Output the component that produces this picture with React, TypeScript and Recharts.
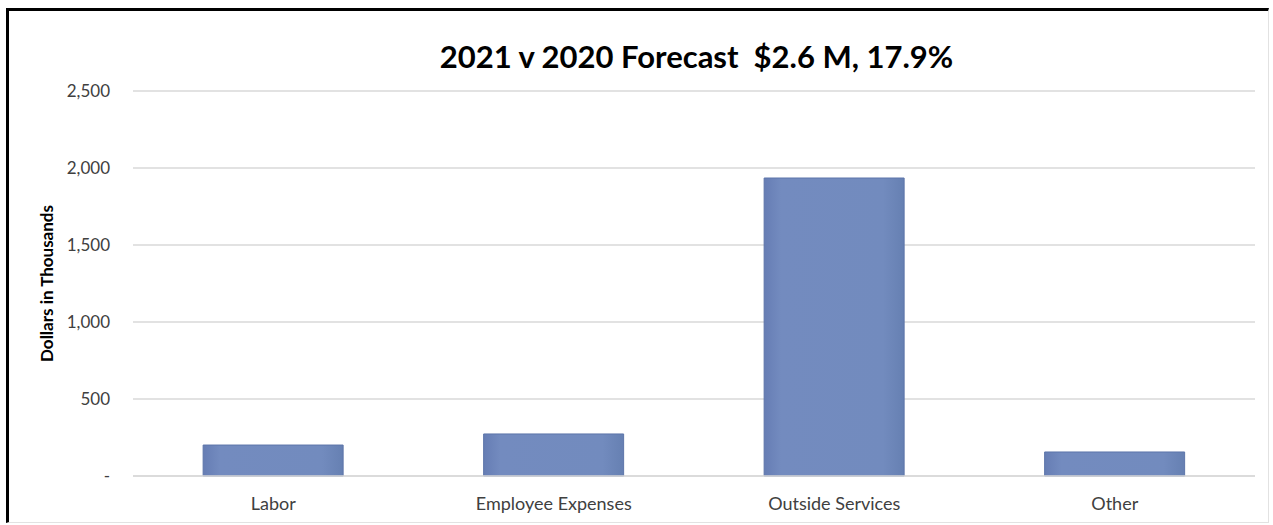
import React from "react";
import { BarChart, Bar, XAxis, YAxis, CartesianGrid, Label } from "recharts";

const categories = ["Labor", "Employee Expenses", "Outside Services", "Other"];
const variance = [201, 273, 1935, 156];
const yTicks = [0, 500, 1000, 1500, 2000, 2500];

const data = categories.map((name, i) => ({ name, value: variance[i] }));

const FONT = "Lato, 'Open Sans', sans-serif";

const formatTick = (v: number) => (v === 0 ? "-" : v.toLocaleString("en-US"));

export default function App() {
  return (
    <div style={{ position: "absolute", left: 0, top: 0, width: 1273, height: 525, background: "#fff" }}>
      <div
        style={{
          position: "absolute",
          left: 6,
          top: 8,
          width: 1259,
          height: 511,
          borderTop: "3px solid #000",
          borderLeft: "3px solid #000",
          borderRight: "1px solid #e2e2e2",
          borderBottom: "1px solid #e2e2e2",
        }}
      />
      <div
        style={{
          position: "absolute",
          left: 0,
          top: 37,
          width: 1393,
          textAlign: "center",
          fontFamily: FONT,
          fontWeight: 700,
          fontSize: 31,
          lineHeight: "38px",
          color: "#000",
        }}
      >
        2021 v 2020 Forecast&nbsp;&nbsp;$2.6 M, 17.9%
      </div>
      <div style={{ position: "absolute", left: 0, top: 0 }}>
        <BarChart
          width={1273}
          height={525}
          data={data}
          margin={{ top: 91, right: 18, bottom: 0, left: 53 }}
          barCategoryGap="25%"
        >
          <defs>
            <linearGradient id="barFill" x1="0" y1="0" x2="1" y2="0">
              <stop offset="0%" stopColor="#667db4" />
              <stop offset="12%" stopColor="#738bbf" />
              <stop offset="85%" stopColor="#728bbe" />
              <stop offset="100%" stopColor="#6680b2" />
            </linearGradient>
          </defs>
          <CartesianGrid vertical={false} stroke="#d9d9d9" strokeWidth={1.5} />
          <XAxis
            dataKey="name"
            height={49}
            axisLine={{ stroke: "#d9d9d9", strokeWidth: 1.5 }}
            tickLine={false}
            tickMargin={15}
            tick={{ fontFamily: FONT, fontSize: 18, fill: "#404040" }}
          />
          <YAxis
            width={80}
            domain={[0, 2500]}
            ticks={yTicks}
            axisLine={false}
            tickLine={false}
            tickSize={0}
            tickMargin={23}
            tickFormatter={formatTick}
            tick={{ fontFamily: FONT, fontSize: 17, fill: "#404040" }}
          >
            <Label
              value="Dollars in Thousands"
              angle={-90}
              position="insideLeft"
              offset={-6}
              style={{ textAnchor: "middle", fontFamily: FONT, fontWeight: 700, fontSize: 17, fill: "#000" }}
            />
          </YAxis>
          <Bar dataKey="value" fill="url(#barFill)" stroke="#5d75aa" strokeWidth={1} isAnimationActive={false} />
        </BarChart>
      </div>
    </div>
  );
}
